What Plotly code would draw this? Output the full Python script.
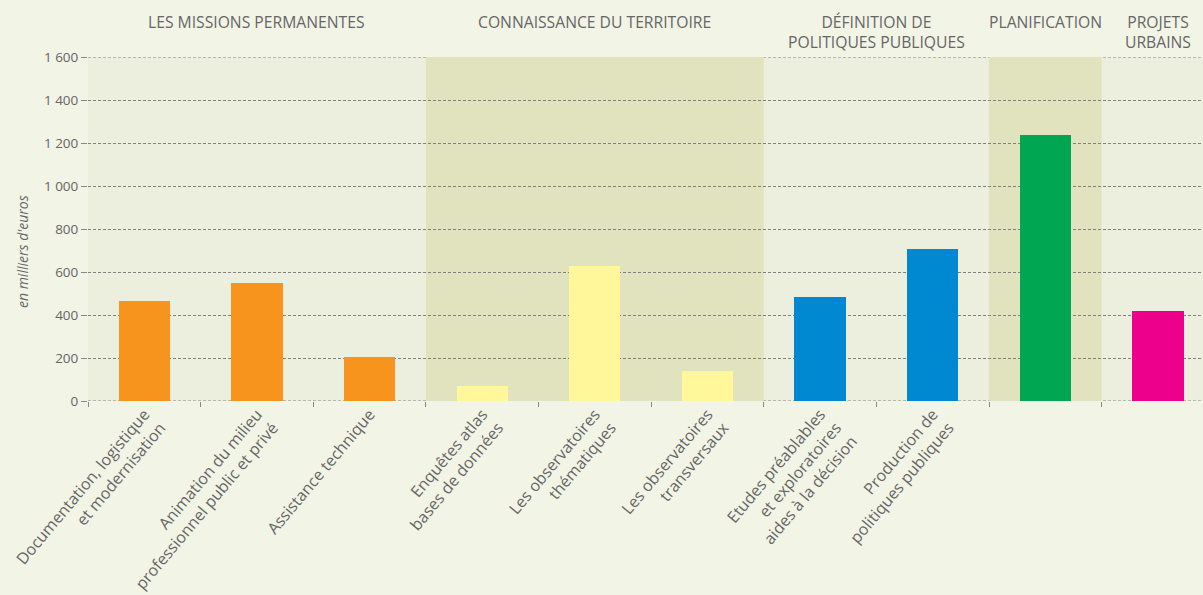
import plotly.graph_objects as go

categories = [
    "Documentation, logistique<br>et modernisation",
    "Animation du milieu<br>professionnel public et privé",
    "Assistance technique",
    "Enquêtes atlas<br>bases de données",
    "Les observatoires<br>thématiques",
    "Les observatoires<br>transversaux",
    "Etudes préablables<br>et exploratoires<br>aides à la décision",
    "Production de<br>politiques publiques",
    "",
    " ",
]
values = [465, 549, 205, 70, 628, 140, 484, 707, 1237, 419]
colors = ["#F7941D", "#F7941D", "#F7941D", "#FFF799", "#FFF799", "#FFF799",
          "#0088D1", "#0088D1", "#00A651", "#EC008C"]

groups = ["LES MISSIONS PERMANENTES", "CONNAISSANCE DU TERRITOIRE",
          "DÉFINITION DE<br>POLITIQUES PUBLIQUES", "PLANIFICATION", "PROJETS<br>URBAINS"]
group_spans = [(0, 2), (3, 5), (6, 7), (8, 8), (9, 9)]
group_shaded = [False, True, False, True, False]

tickvals = [0, 200, 400, 600, 800, 1000, 1200, 1400, 1600]
ticktext = ["0", "200", "400", "600", "800", "1 000", "1 200", "1 400", "1 600"]

fig = go.Figure()
fig.add_trace(go.Bar(x=list(range(len(values))), y=values, marker=dict(color=colors, line=dict(width=0)),
                     width=0.455))

font_color = "#666666"
grid_color = "#808080"
grid_dash = "3px,2px"
shapes = []
annotations = []
for name, (a, b), shaded in zip(groups, group_spans, group_shaded):
    if shaded:
        shapes.append(dict(type="rect", xref="x", yref="y", x0=a - 0.5, x1=b + 0.5, y0=0, y1=1600,
                           fillcolor="#E1E3BE", line=dict(width=0), layer="below"))
    annotations.append(dict(x=(a + b) / 2, y=1.0, xref="x", yref="paper", yshift=48,
                            text=name, showarrow=False, yanchor="top",
                            font=dict(size=15.7, color=font_color, family="Open Sans")))
for yv in (tickvals[0], tickvals[-1]):
    shapes.append(dict(type="line", xref="paper", yref="y", x0=0, x1=1, y0=yv, y1=yv,
                       line=dict(color=grid_color, width=1, dash=grid_dash), layer="between"))

annotations.append(dict(x=-0.0592, y=0.436, xref="paper", yref="paper", textangle=-90,
                        text="<i>en milliers d'euros</i>", showarrow=False,
                        xanchor="center", yanchor="middle",
                        font=dict(size=14, color=font_color, family="Open Sans")))

fig.update_layout(
    width=1203, height=595,
    margin=dict(l=88, r=0, t=57, b=194),
    paper_bgcolor="#F2F4E6",
    plot_bgcolor="#ECEFDD",
    showlegend=False,
    shapes=shapes,
    annotations=annotations,
    font=dict(family="Open Sans", color=font_color, size=13),
    bargap=0,
)
fig.update_xaxes(
    tickmode="array", tickvals=list(range(len(values))), ticktext=categories,
    range=[-0.5, 9.4], tickangle=-50,
    showgrid=False, zeroline=False,
    ticks="", ticklen=0,
    minor=dict(ticks="outside", tick0=0.5, dtick=1, ticklen=5, tickcolor="#888888", showgrid=False),
    tickfont=dict(size=16, color=font_color),
)
fig.update_yaxes(
    range=[0, 1600], tickmode="array", tickvals=tickvals, ticktext=ticktext,
    showgrid=True, gridcolor=grid_color, griddash=grid_dash, gridwidth=1,
    zeroline=False, ticks="outside", ticklen=6, tickcolor="#888888",
    tickfont=dict(size=13.5, color=font_color),
)
fig.write_html("out.html", config={"displayModeBar": False},
               post_script="document.body.style.margin='0';document.body.style.background='#F2F4E6';")
